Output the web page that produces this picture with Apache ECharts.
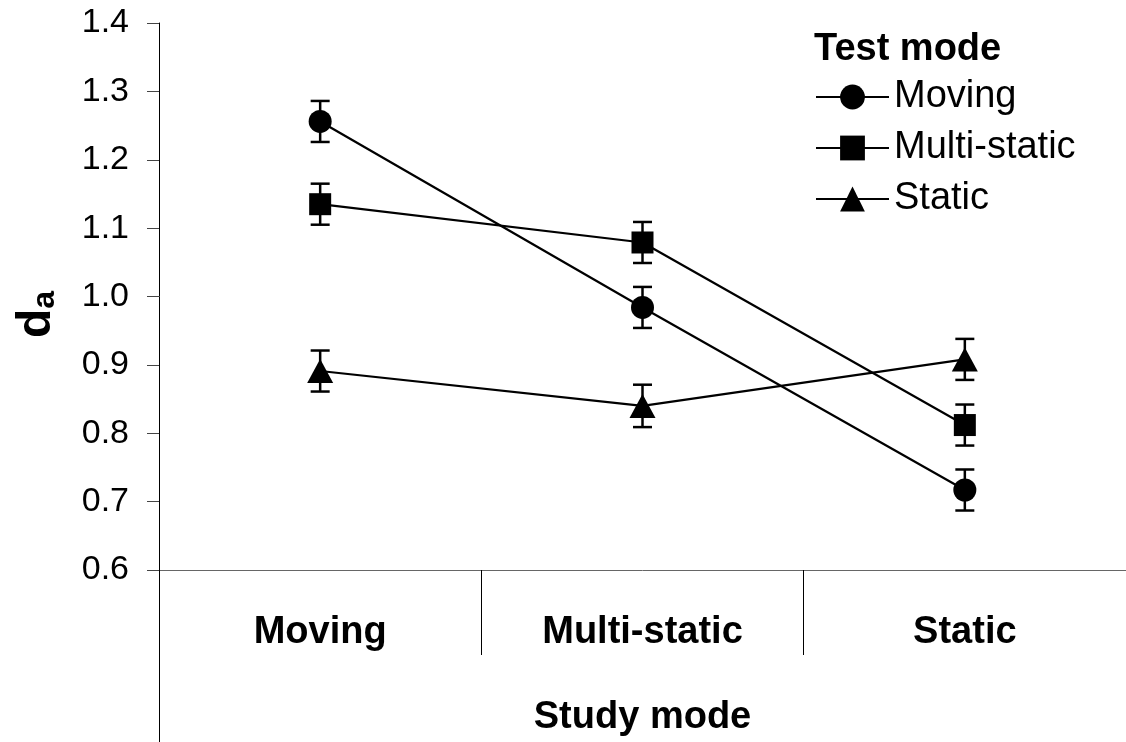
<!DOCTYPE html>
<html>
<head>
<meta charset="utf-8">
<script src="https://cdn.jsdelivr.net/npm/echarts@6/dist/echarts.min.js"></script>
<style>
html,body{margin:0;padding:0;background:#fff;}
#chart{width:1126px;height:742px;}
</style>
</head>
<body>
<div id="chart"></div>
<script>
// ---- data ----
const categories = ['Moving', 'Multi-static', 'Static'];
const seriesNames = ['Moving', 'Multi-static', 'Static'];
const movingValues = [1.256, 0.984, 0.717];
const multiStaticValues = [1.135, 1.079, 0.812];
const staticValues = [0.891, 0.840, 0.908];
const movingErr = [0.030, 0.030, 0.030];
const multiStaticErr = [0.030, 0.030, 0.030];
const staticErr = [0.030, 0.031, 0.030];
const yTicks = [0.6, 0.7, 0.8, 0.9, 1.0, 1.1, 1.2, 1.3, 1.4];

const FONT = "'Liberation Sans', Arial, sans-serif";
const symbols = ['circle', 'rect', 'triangle'];
const symbolSizes = [23, 22, [26, 24]];
const valueSets = [movingValues, multiStaticValues, staticValues];
const errSets = [movingErr, multiStaticErr, staticErr];

function errData(vals, errs) {
  return vals.map((v, i) => [i, v - errs[i], v + errs[i]]);
}

function renderErr(params, api) {
  const i = api.value(0);
  const lo = api.coord([i, api.value(1)]);
  const hi = api.coord([i, api.value(2)]);
  const half = 9.5;
  const st = { stroke: '#000', lineWidth: 2.5 };
  return {
    type: 'group',
    children: [
      { type: 'line', shape: { x1: hi[0], y1: hi[1], x2: lo[0], y2: lo[1] }, style: st },
      { type: 'line', shape: { x1: hi[0] - half, y1: hi[1], x2: hi[0] + half, y2: hi[1] }, style: st },
      { type: 'line', shape: { x1: lo[0] - half, y1: lo[1], x2: lo[0] + half, y2: lo[1] }, style: st }
    ]
  };
}

const series = [];
seriesNames.forEach((name, k) => {
  series.push({
    type: 'custom',
    name: name + ' err',
    renderItem: renderErr,
    data: errData(valueSets[k], errSets[k]),
    encode: { x: 0, y: [1, 2] },
    z: 1,
    silent: true
  });
});
seriesNames.forEach((name, k) => {
  series.push({
    type: 'line',
    name: name,
    data: valueSets[k],
    symbol: symbols[k],
    symbolSize: symbolSizes[k],
    showAllSymbol: true,
    lineStyle: { color: '#000', width: 2.2 },
    itemStyle: { color: '#000', borderWidth: 0 },
    emphasis: { disabled: true },
    z: 3,
    animation: false
  });
});

const chart = echarts.init(document.getElementById('chart'), null, { renderer: 'canvas' });
chart.setOption({
  animation: false,
  backgroundColor: '#fff',
  textStyle: { fontFamily: FONT },
  title: {
    text: 'Test mode',
    left: 814,
    top: 31,
    padding: 0,
    textStyle: { fontFamily: FONT, fontSize: 38, fontWeight: 'bold', color: '#000' }
  },
  legend: {
    data: seriesNames,
    orient: 'vertical',
    left: 815,
    top: 78,
    padding: 0,
    itemWidth: 73,
    itemHeight: 31,
    itemGap: 13,
    selectedMode: false,
    textStyle: { fontFamily: FONT, fontSize: 38, color: '#000' }
  },
  grid: { left: 159, top: 23, width: 969, height: 549, containLabel: false },
  xAxis: [
    {
      type: 'category',
      data: categories,
      boundaryGap: true,
      position: 'bottom',
      name: 'Study mode',
      nameLocation: 'middle',
      nameGap: 129,
      nameTextStyle: { fontFamily: FONT, fontSize: 38, fontWeight: 'bold', color: '#000' },
      axisLine: { show: true, onZero: false, lineStyle: { color: '#666', width: 1 } },
      axisTick: { show: true, length: 85, alignWithLabel: false, lineStyle: { color: '#000', width: 1 } },
      axisLabel: { margin: 44, fontFamily: FONT, fontSize: 38, fontWeight: 'bold', color: '#000' },
      splitLine: { show: false }
    },
    {
      type: 'category',
      data: [''],
      position: 'bottom',
      boundaryGap: true,
      axisLine: { show: false },
      axisTick: { show: true, length: 172, lineStyle: { color: '#000', width: 1 } },
      axisLabel: { show: false },
      splitLine: { show: false }
    }
  ],
  yAxis: {
    type: 'value',
    min: yTicks[0],
    max: yTicks[yTicks.length - 1],
    interval: 0.1,
    name: '{d|d}{a|a}',
    nameLocation: 'middle',
    nameRotate: 90,
    nameGap: 98,
    nameTextStyle: {
      padding: [0, 36, 0, 0],
      rich: {
        d: { fontFamily: FONT, fontSize: 48, fontWeight: 'bold', color: '#000', verticalAlign: 'bottom' },
        a: { fontFamily: FONT, fontSize: 32, fontWeight: 'bold', color: '#000', verticalAlign: 'bottom', padding: [0, 0, 0, 0] }
      }
    },
    axisLine: { show: true, lineStyle: { color: '#000', width: 1 } },
    axisTick: { show: true, length: 12, lineStyle: { color: '#444', width: 1 } },
    axisLabel: {
      margin: 30,
      fontFamily: FONT,
      fontSize: 34,
      color: '#000',
      formatter: v => v.toFixed(1)
    },
    splitLine: { show: false }
  },
  series: series
});
</script>
</body>
</html>
